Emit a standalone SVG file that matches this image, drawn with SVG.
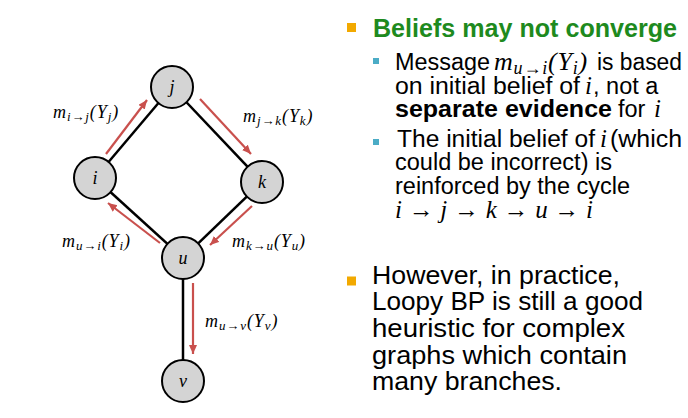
<svg xmlns="http://www.w3.org/2000/svg" width="688" height="418" viewBox="0 0 688 418">
<style>
.edge{stroke:#000;stroke-width:2.5;fill:none}
.msg{stroke:#C9504D;stroke-width:2.2;fill:none;marker-end:url(#ah)}
.node circle{fill:#D4D4D4;stroke:#000;stroke-width:2}
.nl{font-family:"Liberation Serif",serif;font-style:italic;font-size:18px;text-anchor:middle;fill:#000}
.ml{font-family:"Liberation Serif",serif;font-style:italic;font-size:18px;letter-spacing:0.9px;fill:#000}
.sub{font-size:13px}
.t{font-family:"Liberation Sans",Arial,sans-serif;fill:#000}
.s{font-size:23.5px}
.b2{font-size:26px}
.mi{font-family:"Liberation Serif",serif;font-style:italic;fill:#000}
</style>
<defs>
<marker id="ah" markerUnits="userSpaceOnUse" markerWidth="12" markerHeight="10" refX="9" refY="4" orient="auto">
<path d="M0,0 L9,4 L0,8 Z" fill="#C9504D"/>
</marker>
</defs>
<g id="connectors">
<line class="edge" x1="95" y1="178" x2="172" y2="87"/>
<line class="edge" x1="172" y1="87" x2="262" y2="182"/>
<line class="edge" x1="262" y1="182" x2="183" y2="258"/>
<line class="edge" x1="183" y1="258" x2="95" y2="178"/>
<line class="edge" x1="183" y1="258" x2="183" y2="381"/>
<line class="msg" x1="106" y1="154" x2="147" y2="100"/>
<line class="msg" x1="200" y1="99" x2="251" y2="154"/>
<line class="msg" x1="252" y1="206" x2="210" y2="245"/>
<line class="msg" x1="160" y1="243" x2="108" y2="203"/>
<line class="msg" x1="193" y1="283" x2="193" y2="354"/>
</g>
<g id="node-j" class="node"><circle cx="172" cy="87" r="21"/><text class="nl" x="172" y="93">j</text></g>
<g id="node-i" class="node"><circle cx="95" cy="178" r="21"/><text class="nl" x="95" y="184">i</text></g>
<g id="node-k" class="node"><circle cx="262" cy="182" r="21"/><text class="nl" x="262" y="188">k</text></g>
<g id="node-u" class="node"><circle cx="183" cy="258" r="21"/><text class="nl" x="183" y="264">u</text></g>
<g id="node-v" class="node"><circle cx="183" cy="381" r="21"/><text class="nl" x="183" y="387">v</text></g>
<g id="labels">
<text class="ml" x="53" y="118">m<tspan class="sub" dy="3">i→j</tspan><tspan dy="-3">(Y</tspan><tspan class="sub" dy="3">j</tspan><tspan dy="-3">)</tspan></text>
<text class="ml" x="243" y="122">m<tspan class="sub" dy="3">j→k</tspan><tspan dy="-3">(Y</tspan><tspan class="sub" dy="3">k</tspan><tspan dy="-3">)</tspan></text>
<text class="ml" x="62" y="247">m<tspan class="sub" dy="3">u→i</tspan><tspan dy="-3">(Y</tspan><tspan class="sub" dy="3">i</tspan><tspan dy="-3">)</tspan></text>
<text class="ml" x="232" y="247">m<tspan class="sub" dy="3">k→u</tspan><tspan dy="-3">(Y</tspan><tspan class="sub" dy="3">u</tspan><tspan dy="-3">)</tspan></text>
<text class="ml" x="205" y="327">m<tspan class="sub" dy="3">u→v</tspan><tspan dy="-3">(Y</tspan><tspan class="sub" dy="3">v</tspan><tspan dy="-3">)</tspan></text>
</g>
<g id="text">
<rect x="347" y="23" width="9" height="9" fill="#F2A900"/>
<text class="t" x="373" y="36.5" font-size="25" font-weight="bold" style="fill:#1E8A1E" textLength="304" lengthAdjust="spacingAndGlyphs">Beliefs may not converge</text>
<rect x="373" y="58" width="6" height="6" fill="#4BACC6"/>
<text class="t s" x="395" y="70" textLength="95" lengthAdjust="spacingAndGlyphs">Message</text>
<text class="mi" x="494" y="70" font-size="26" letter-spacing="0.8">m<tspan font-size="18" dy="4">u→i</tspan><tspan dy="-4">(Y</tspan><tspan font-size="18" dy="4">i</tspan><tspan dy="-4">)</tspan></text>
<text class="t s" x="597" y="70" textLength="85" lengthAdjust="spacingAndGlyphs">is based</text>
<text class="t s" x="395" y="93.5" textLength="185" lengthAdjust="spacingAndGlyphs">on initial belief of</text>
<text class="mi" x="585" y="93.5" font-size="25">i</text>
<text class="t s" x="593" y="93.5">, not a</text>
<text class="t s" x="395" y="116.5" font-weight="bold" textLength="217" lengthAdjust="spacingAndGlyphs">separate evidence</text>
<text class="t s" x="618" y="116.5">for</text>
<text class="mi" x="654" y="116.5" font-size="25">i</text>
<rect x="373" y="139" width="6" height="6" fill="#4BACC6"/>
<text class="t s" x="397" y="146.5" textLength="198" lengthAdjust="spacingAndGlyphs">The initial belief of</text>
<text class="mi" x="600" y="146.5" font-size="25">i</text>
<text class="t s" x="610" y="146.5" textLength="72" lengthAdjust="spacingAndGlyphs">(which</text>
<text class="t s" x="395" y="170" textLength="217" lengthAdjust="spacingAndGlyphs">could be incorrect) is</text>
<text class="t s" x="395" y="194" textLength="235" lengthAdjust="spacingAndGlyphs">reinforced by the cycle</text>
<text class="mi" x="395" y="218" font-size="25" textLength="198" lengthAdjust="spacing">i → j → k → u → i</text>
<rect x="347" y="276.5" width="9" height="9" fill="#F2A900"/>
<text class="t b2" x="372" y="283.5" textLength="248" lengthAdjust="spacingAndGlyphs">However, in practice,</text>
<text class="t b2" x="372" y="310" textLength="271" lengthAdjust="spacingAndGlyphs">Loopy BP is still a good</text>
<text class="t b2" x="372" y="337" textLength="253" lengthAdjust="spacingAndGlyphs">heuristic for complex</text>
<text class="t b2" x="372" y="363.5" textLength="255" lengthAdjust="spacingAndGlyphs">graphs which contain</text>
<text class="t b2" x="372" y="390" textLength="190" lengthAdjust="spacingAndGlyphs">many branches.</text>
</g>
</svg>
